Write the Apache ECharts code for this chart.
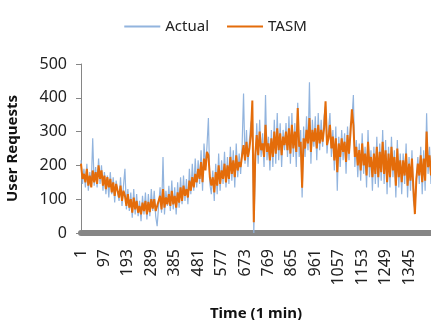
<!DOCTYPE html>
<html lang="en">
<head>
    <meta charset="UTF-8">
    <title>User Requests</title>
    <script src="https://cdn.jsdelivr.net/npm/echarts@6.0.0/dist/echarts.min.js"></script>
    <style>
        * { margin: 0; padding: 0; }
        body { background: #fff; }
        #chart { width: 431px; height: 320px; }
    </style>
</head>
<body>
    <div id="chart"></div>
    <script>
        // one sample every 6 minutes, labels every 96 minutes
        const step = 6;
        const minutes = Array.from({ length: 240 }, (_, i) => 1 + i * step);
        const seriesNames = ['Actual', 'TASM'];
        const yTicks = [0, 100, 200, 300, 400, 500];

        // values
        const actual = [
            215,145,190,135,205,125,180,140,280,140,
            195,135,220,145,200,125,180,115,170,105,
            180,115,165,90,155,120,95,165,80,140,
            190,70,130,65,120,45,130,55,115,50,
            95,35,110,55,120,40,115,50,130,65,
            125,50,20,80,135,60,225,55,125,80,
            140,65,155,70,135,55,150,75,165,85,
            170,95,160,85,190,115,205,125,220,135,
            215,145,245,125,265,195,255,340,145,115,
            185,95,205,115,235,125,215,145,240,135,
            225,145,255,155,245,135,265,165,235,175,
            255,413,205,305,195,275,325,345,0,195,
            325,205,335,225,295,195,408,215,285,185,
            305,195,335,205,355,215,325,195,305,245,
            325,225,345,205,355,225,325,195,385,225,
            305,105,315,225,345,245,446,205,335,255,
            345,215,355,245,335,255,345,375,235,305,
            355,225,305,185,315,125,285,195,305,215,
            295,175,315,215,325,335,408,195,275,165,
            265,155,295,175,255,135,305,165,245,125,
            255,145,285,135,265,155,305,145,275,115,
            255,135,285,165,245,105,275,135,235,115,
            235,145,265,105,225,125,245,95,70,155,
            225,145,255,115,245,125,354,175,255,145
        ];
        const tasm = [
            205,160,175,150,190,140,170,135,185,150,
            180,145,200,160,185,140,170,130,165,135,
            160,120,150,110,145,125,105,140,95,125,
            110,80,115,75,100,60,105,70,95,60,
            80,55,90,65,95,55,92,62,100,72,
            100,65,80,75,110,70,130,75,105,85,
            115,80,125,85,110,75,120,90,135,95,
            140,110,130,105,155,125,165,135,175,150,
            190,160,210,150,220,185,240,230,165,140,
            165,120,180,140,200,145,185,160,205,150,
            200,160,225,175,215,165,230,185,210,195,
            230,260,215,270,225,250,290,392,32,230,
            290,230,300,245,265,225,320,240,265,215,
            280,225,300,235,310,245,295,230,285,260,
            300,245,310,235,320,250,300,240,370,255,
            270,134,280,250,305,265,340,240,305,270,
            310,250,320,265,305,270,310,390,260,280,
            320,250,285,215,280,180,265,225,280,240,
            270,210,290,235,295,366,320,225,255,200,
            245,185,265,200,235,170,270,195,225,165,
            235,175,255,165,240,180,270,175,245,150,
            235,165,255,185,225,140,250,165,215,150,
            215,170,235,140,205,155,220,130,56,160,
            205,170,230,150,220,155,300,195,230,170
        ];

        const chart = echarts.init(document.getElementById('chart'));
        const font = 'Noto Sans';

        chart.setOption({
            animation: false,
            color: ['#92B4DE', '#E46C0A'],
            legend: {
                data: seriesNames,
                top: 14,
                left: 'center',
                icon: 'rect',
                itemWidth: 36,
                itemHeight: 2,
                itemGap: 18,
                textStyle: { fontFamily: font, fontSize: 15, color: '#222' }
            },
            grid: { left: 81, right: 0, top: 64, bottom: 87, outerBoundsMode: 'none' },
            xAxis: {
                type: 'category',
                data: minutes,
                boundaryGap: false,
                name: 'Time (1 min)',
                nameLocation: 'middle',
                nameGap: 73,
                nameTextStyle: { fontFamily: font, fontSize: 15, fontWeight: 'bold', color: '#111' },
                axisLine: { lineStyle: { color: '#868686', width: 6 } },
                axisTick: { show: false },
                axisLabel: {
                    interval: 15,
                    rotate: 90,
                    margin: 16,
                    fontFamily: font,
                    fontSize: 16,
                    color: '#222'
                },
                splitLine: { show: false }
            },
            yAxis: {
                type: 'value',
                min: yTicks[0],
                max: yTicks[yTicks.length - 1],
                interval: 100,
                name: 'User Requests',
                nameLocation: 'middle',
                nameGap: 61,
                nameTextStyle: { fontFamily: font, fontSize: 15, fontWeight: 'bold', color: '#111' },
                axisLine: { show: true, lineStyle: { color: '#868686', width: 1 } },
                axisTick: { show: true, length: 5, lineStyle: { color: '#868686' } },
                axisLabel: { margin: 14, fontFamily: font, fontSize: 16, color: '#222' },
                splitLine: { show: false }
            },
            series: [
                {
                    name: seriesNames[0],
                    type: 'line',
                    data: actual,
                    symbol: 'none',
                    lineStyle: { width: 1.2 }
                },
                {
                    name: seriesNames[1],
                    type: 'line',
                    data: tasm,
                    symbol: 'none',
                    lineStyle: { width: 2 }
                }
            ]
        });
    </script>
</body>
</html>
